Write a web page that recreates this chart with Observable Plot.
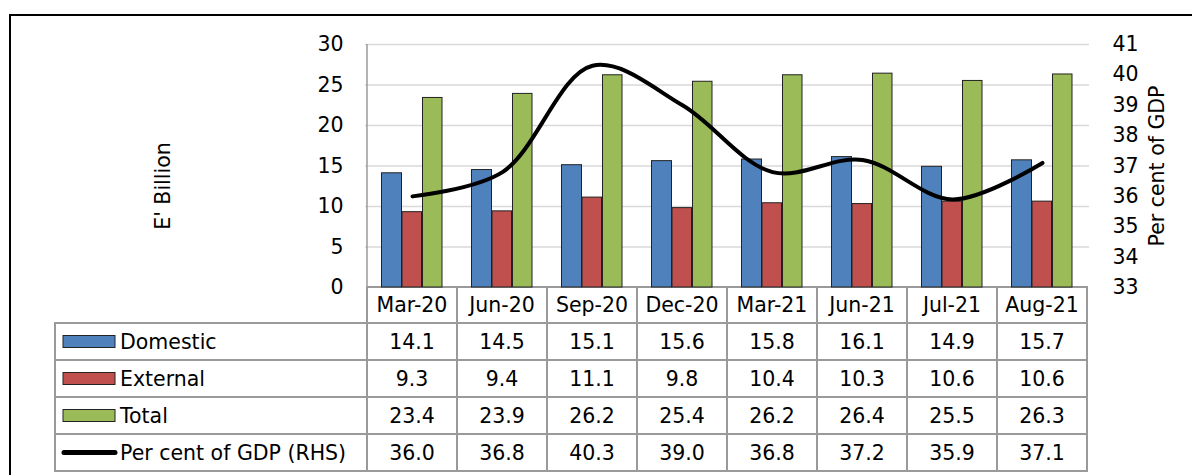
<!DOCTYPE html>
<html><head><meta charset="utf-8">
<script src="https://cdn.jsdelivr.net/npm/d3@7"></script>
<script src="https://cdn.jsdelivr.net/npm/@observablehq/plot@0.6"></script>
<style>
html,body{margin:0;padding:0;background:#fff;overflow:hidden}
#wrap{position:relative;width:1192px;height:475px;overflow:hidden}
#border{position:absolute;left:9px;top:14px;width:1300px;height:700px;border:2px solid #000;box-sizing:border-box;pointer-events:none}
#wrap svg{position:absolute;left:0;top:0}
</style></head><body><div id="wrap"><div id="border"></div></div>
<script>
const categories = ["Mar-20","Jun-20","Sep-20","Dec-20","Mar-21","Jun-21","Jul-21","Aug-21"];
const domestic = [14.1,14.5,15.1,15.6,15.8,16.1,14.9,15.7];
const external = [9.3,9.4,11.1,9.8,10.4,10.3,10.6,10.6];
const total = [23.4,23.9,26.2,25.4,26.2,26.4,25.5,26.3];
const pctGDP = [36.0,36.8,40.3,39.0,36.8,37.2,35.9,37.1];
const leftTicks = [0,5,10,15,20,25,30];
const rightTicks = [33,34,35,36,37,38,39,40,41];
const seriesNames = ["Domestic","External","Total","Per cent of GDP (RHS)"];
const seriesColors = ["#4F81BD","#C0504D","#9BBB59","#000000"];
const leftLabel = "E' Billion";
const rightLabel = "Per cent of GDP";

const FONT = "'DejaVu Sans',Verdana,sans-serif";
const FS = 20.5;
const rMin = 33, rMax = 41, lMax = 30;
const toLeft = v => (v - rMin) * lMax / (rMax - rMin);

const barData = (vals) => categories.map((c, i) => ({cat: c, v: vals[i]}));
const lineData = categories.map((c, i) => ({cat: c, y: toLeft(pctGDP[i])}));
const tableRows = [domestic, external, total, pctGDP];

function tableMark(index, scales, values, dims) {
  const x = scales.x, y = scales.y, bw = x.bandwidth();
  const g = d3.create("svg:g").attr("font-family", FONT).attr("font-size", FS);
  const top = y(0), headH = 36, rowH = 37, tableLeft = 55, labelX = 120;
  const colLeft = x(categories[0]);
  const grid = "#9a9a9a";
  g.append("line").attr("x1", colLeft).attr("x2", colLeft).attr("y1", y(lMax)).attr("y2", top)
    .attr("stroke", grid).attr("stroke-width", 1.5);
  categories.forEach(c => {
    g.append("rect").attr("x", x(c)).attr("y", top).attr("width", bw).attr("height", headH)
      .attr("fill", "none").attr("stroke", grid).attr("stroke-width", 2);
    g.append("text").attr("x", x(c) + bw / 2).attr("y", top + headH / 2).attr("dy", "0.36em")
      .attr("text-anchor", "middle").attr("fill", "#000").text(c);
  });
  tableRows.forEach((vals, r) => {
    const y0 = top + headH + r * rowH;
    g.append("rect").attr("x", tableLeft).attr("y", y0).attr("width", colLeft - tableLeft).attr("height", rowH)
      .attr("fill", "none").attr("stroke", grid).attr("stroke-width", 2);
    if (r < 3) {
      g.append("rect").attr("x", 63).attr("y", y0 + rowH / 2 - 6).attr("width", 52).attr("height", 12)
        .attr("fill", seriesColors[r]).attr("stroke", "#222").attr("stroke-width", 1);
    } else {
      g.append("line").attr("x1", 64).attr("x2", 115).attr("y1", y0 + rowH / 2).attr("y2", y0 + rowH / 2)
        .attr("stroke", "#000").attr("stroke-width", 5).attr("stroke-linecap", "round");
    }
    g.append("text").attr("x", labelX).attr("y", y0 + rowH / 2).attr("dy", "0.36em")
      .attr("text-anchor", "start").attr("fill", "#000").text(seriesNames[r]);
    categories.forEach((c, i) => {
      g.append("rect").attr("x", x(c)).attr("y", y0).attr("width", bw).attr("height", rowH)
        .attr("fill", "none").attr("stroke", grid).attr("stroke-width", 2);
      g.append("text").attr("x", x(c) + bw / 2).attr("y", y0 + rowH / 2).attr("dy", "0.36em")
        .attr("text-anchor", "middle").attr("fill", "#000").text(vals[i].toFixed(1));
    });
  });
  return g.node();
}

const chart = Plot.plot({
  width: 1192, height: 475,
  marginLeft: 365, marginRight: 103, marginTop: 44, marginBottom: 188,
  x: {type: "band", domain: categories, padding: 0, axis: null},
  y: {domain: [0, lMax], axis: null},
  style: {fontFamily: FONT, fontSize: FS + "px", color: "#000", background: "transparent", overflow: "visible"},
  marks: [
    Plot.gridY(leftTicks.filter(t => t > 0), {stroke: "#d9d9d9", strokeOpacity: 1, strokeWidth: 1.5}),
    tableMark,
    Plot.barY(barData(domestic), {x: "cat", y: "v", fill: seriesColors[0], stroke: "#222", strokeWidth: 1, insetLeft: 14.5, insetRight: 55.5}),
    Plot.barY(barData(external), {x: "cat", y: "v", fill: seriesColors[1], stroke: "#222", strokeWidth: 1, insetLeft: 35, insetRight: 35.5}),
    Plot.barY(barData(total), {x: "cat", y: "v", fill: seriesColors[2], stroke: "#222", strokeWidth: 1, insetLeft: 55.5, insetRight: 15}),
    Plot.line(lineData, {x: "cat", y: "y", stroke: "#000", strokeWidth: 4, curve: "catmull-rom"}),
    Plot.axisY({ticks: leftTicks, tickSize: 0, tickPadding: 22, fontSize: FS, fill: "#000"}),
    Plot.axisY({anchor: "right", ticks: rightTicks.map(toLeft), tickFormat: d => String(Math.round(rMin + d * (rMax - rMin) / lMax)), tickSize: 0, tickPadding: 23, fontSize: FS, fill: "#000", textAnchor: "start"}),
    Plot.text([leftLabel], {frameAnchor: "left", dx: -202, dy: 20, rotate: -90, textAnchor: "middle", fontSize: FS, fill: "#000"}),
    Plot.text([rightLabel], {frameAnchor: "right", dx: 68, dy: 0, rotate: -90, textAnchor: "middle", fontSize: FS, fill: "#000"})
  ]
});
document.getElementById("wrap").appendChild(chart);
</script></body></html>
